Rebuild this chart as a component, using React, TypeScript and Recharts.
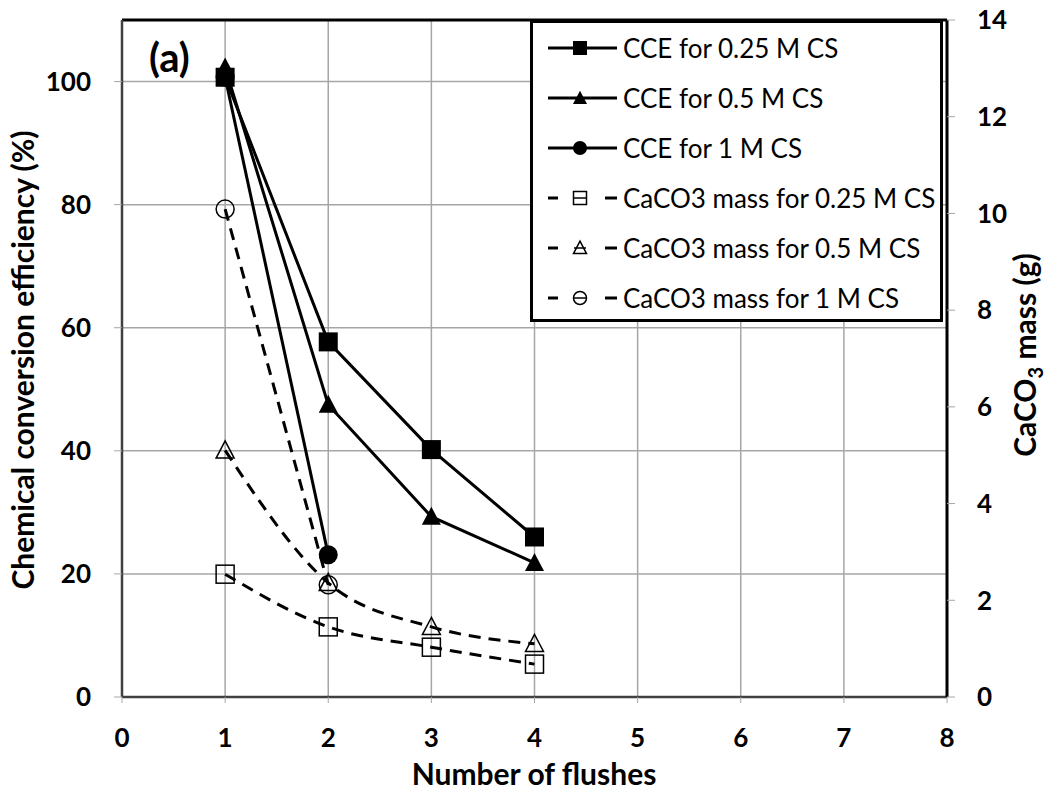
import { LineChart, Line, XAxis, YAxis, CartesianGrid, Legend, ReferenceLine } from 'recharts'

// Number of flushes (x) and readings per series
const flushes = [1, 2, 3, 4]
const cce025 = [100.7, 57.7, 40.2, 26.0]
const cce05 = [102.3, 47.5, 29.3, 21.8]
const cce1 = [100.7, 23.1]
const mass025 = [2.54, 1.45, 1.03, 0.68]
const mass05 = [5.1, 2.36, 1.45, 1.1]
const mass1 = [10.09, 2.32]

const xTicks = [0, 1, 2, 3, 4, 5, 6, 7, 8]
const leftTicks = [0, 20, 40, 60, 80, 100]
const rightTicks = [0, 2, 4, 6, 8, 10, 12, 14]

type Shape = 'square' | 'triangle' | 'circle'

interface Series { name: string; values: number[]; axis: 'left' | 'right'; shape: Shape; open: boolean }

const series: Series[] = [
  { name: 'CCE for 0.25 M CS', values: cce025, axis: 'left', shape: 'square', open: false },
  { name: 'CCE for 0.5 M CS', values: cce05, axis: 'left', shape: 'triangle', open: false },
  { name: 'CCE for 1 M CS', values: cce1, axis: 'left', shape: 'circle', open: false },
  { name: 'CaCO3 mass for 0.25 M CS', values: mass025, axis: 'right', shape: 'square', open: true },
  { name: 'CaCO3 mass for 0.5 M CS', values: mass05, axis: 'right', shape: 'triangle', open: true },
  { name: 'CaCO3 mass for 1 M CS', values: mass1, axis: 'right', shape: 'circle', open: true },
]

const FONT = 'Lato, "Open Sans", sans-serif'
const tickStyle = { fontFamily: FONT, fontSize: 26, fontWeight: 700, fill: '#000' }

function Marker({ cx, cy, shape, open, s }: { cx: number; cy: number; shape: Shape; open: boolean; s: number }) {
  const paint = open
    ? { fill: 'none', stroke: '#000', strokeWidth: 1.5 }
    : { fill: '#000', stroke: 'none' }
  if (shape === 'square') return <rect x={cx - s / 2} y={cy - s / 2} width={s} height={s} {...paint} />
  if (shape === 'triangle') {
    const h = s * 0.95
    return <polygon points={`${cx},${cy - h * 0.55} ${cx - s / 2},${cy + h * 0.45} ${cx + s / 2},${cy + h * 0.45}`} {...paint} />
  }
  return <circle cx={cx} cy={cy} r={s / 2} {...paint} />
}

function LegendBox() {
  return (
    <div style={{ width: 407, height: 296, border: '3px solid #000', background: '#fff', boxSizing: 'content-box' }}>
      {series.map((s) => (
        <div key={s.name} style={{ display: 'flex', alignItems: 'center', height: 50 }}>
          <svg width={90} height={50} style={{ flex: 'none' }}>
            {s.open ? (
              <g stroke="#000" strokeWidth={3}>
                <line x1={15} x2={25} y1={25} y2={25} />
                <line x1={72} x2={84} y1={25} y2={25} />
              </g>
            ) : (
              <line x1={15} x2={84} y1={25} y2={25} stroke="#000" strokeWidth={3} />
            )}
            {s.open && <line x1={41} x2={53} y1={25} y2={25} stroke="#000" strokeWidth={1.5} />}
            <Marker cx={47} cy={25} shape={s.shape} open={s.open} s={s.open ? 13 : 14} />
          </svg>
          <span style={{ fontFamily: FONT, fontSize: 26, color: '#000', whiteSpace: 'nowrap', marginLeft: 0 }}>{s.name}</span>
        </div>
      ))}
    </div>
  )
}

export default function App() {
  return (
    <div style={{ position: 'absolute', left: 0, top: 0, width: 1050, height: 793, background: '#fff' }}>
      <LineChart width={1050} height={793} margin={{ top: 20, right: 0, bottom: 0, left: 0 }}>
        <CartesianGrid yAxisId="left" stroke="#a6a6a6" strokeWidth={1.5} />
        <XAxis
          type="number" dataKey="x" domain={[0, 8]} ticks={xTicks} height={96}
          tick={tickStyle} tickSize={6} tickMargin={26} interval={0}
          axisLine={{ stroke: '#404040', strokeWidth: 2.5 }} tickLine={{ stroke: '#a6a6a6' }}
          allowDataOverflow
        />
        <YAxis
          yAxisId="left" domain={[0, 110]} ticks={leftTicks} width={122}
          tick={tickStyle} tickSize={8} tickMargin={23} interval={0}
          axisLine={{ stroke: '#404040', strokeWidth: 2.5 }} tickLine={{ stroke: '#a6a6a6' }}
        />
        <YAxis
          yAxisId="right" orientation="right" domain={[0, 14]} ticks={rightTicks} width={103}
          tick={tickStyle} tickSize={8} tickMargin={22} interval={0}
          axisLine={{ stroke: '#000', strokeWidth: 3 }} tickLine={{ stroke: '#a6a6a6' }}
        />
        <ReferenceLine yAxisId="left" y={110} stroke="#000" strokeWidth={3} ifOverflow="extendDomain" />
        {series.map((s) => (
          <Line
            key={s.name}
            name={s.name}
            yAxisId={s.axis}
            data={s.values.map((v, i) => ({ x: flushes[i], y: v }))}
            dataKey="y"
            type={s.open ? 'monotone' : 'linear'}
            stroke="#000"
            strokeWidth={3}
            strokeDasharray={s.open ? '12 8' : undefined}
            isAnimationActive={false}
            activeDot={false}
            dot={(p: any) => (
              <Marker key={`${s.name}-${p.index}`} cx={p.cx} cy={p.cy} shape={s.shape} open={s.open} s={s.open ? 18 : 19} />
            )}
          />
        ))}
        <Legend
          layout="vertical" align="center" verticalAlign="middle"
          wrapperStyle={{ left: 530, top: 20, width: 413, height: 302 }}
          content={() => <LegendBox />}
        />
        <text x={149} y={72} fontFamily={FONT} fontSize={40} fontWeight={700} fill="#000">(a)</text>
        <text x={534} y={785} textAnchor="middle" fontFamily={FONT} fontSize={30} fontWeight={700} fill="#000">Number of flushes</text>
        <text x={34} y={360} transform="rotate(-90 34 360)" textAnchor="middle" fontFamily={FONT} fontSize={30} fontWeight={700} fill="#000">
          Chemical conversion efficiency (%)
        </text>
        <text x={1036} y={355} transform="rotate(-90 1036 355)" textAnchor="middle" fontFamily={FONT} fontSize={30} fontWeight={700} fill="#000">
          CaCO<tspan fontSize={20} dy={7}>3</tspan><tspan dy={-7}> mass (g)</tspan>
        </text>
      </LineChart>
    </div>
  )
}
